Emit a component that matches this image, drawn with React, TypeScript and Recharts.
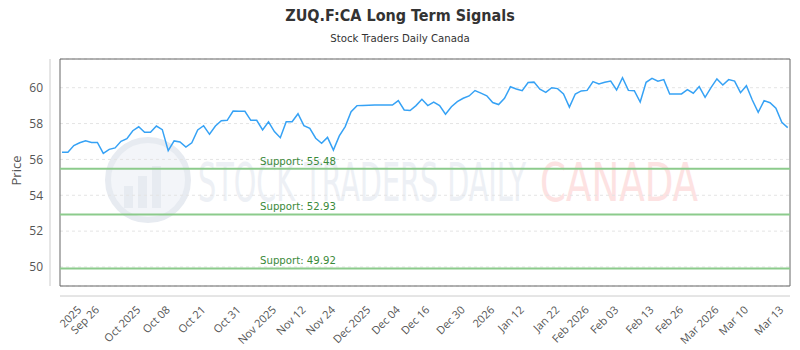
import React from 'react';
import { LineChart, Line, XAxis, YAxis, CartesianGrid, ReferenceLine, ReferenceArea } from 'recharts';

const prices: number[] = [
  56.40, 56.40, 56.77, 56.93, 57.04, 56.95, 56.95, 56.34, 56.56, 56.64,
  57.01, 57.16, 57.60, 57.82, 57.51, 57.51, 57.86, 57.66, 56.49, 57.03,
  56.97, 56.69, 56.93, 57.64, 57.88, 57.40, 57.86, 58.16, 58.18, 58.70,
  58.68, 58.68, 58.18, 58.18, 57.64, 58.10, 57.55, 57.21, 58.10, 58.10,
  58.55, 57.88, 57.73, 57.18, 56.90, 57.23, 56.52, 57.31, 57.83, 58.66,
  59.00, 59.01, 59.02, 59.03, 59.03, 59.04, 59.03, 59.28, 58.76, 58.73,
  59.00, 59.35, 59.00, 59.20, 59.00, 58.52, 58.94, 59.22, 59.41, 59.54,
  59.84, 59.70, 59.55, 59.17, 59.06, 59.41, 60.05, 59.93, 59.83, 60.29,
  60.31, 59.92, 59.74, 60.00, 59.95, 59.65, 58.92, 59.65, 59.82, 59.85,
  60.34, 60.21, 60.30, 60.37, 59.87, 60.56, 59.85, 59.83, 59.20, 60.30,
  60.52, 60.36, 60.45, 59.65, 59.65, 59.65, 59.89, 59.69, 60.06, 59.46,
  60.00, 60.49, 60.15, 60.45, 60.37, 59.72, 60.11, 59.31, 58.63, 59.28,
  59.16, 58.85, 58.07, 57.77,
];

const tickIndex: number[] = [3, 6, 13, 18, 24, 30, 36, 41, 46, 52, 57, 62, 68, 73, 78, 84, 89, 94, 100, 105, 111, 116, 122];
const tickLabels: string[] = [
  '2025', 'Sep 26', 'Oct 2025', 'Oct 08', 'Oct 21', 'Oct 31', 'Nov 2025', 'Nov 12', 'Nov 24',
  'Dec 2025', 'Dec 04', 'Dec 16', 'Dec 30', '2026', 'Jan 12', 'Jan 22', 'Feb 2026', 'Feb 03',
  'Feb 13', 'Feb 26', 'Mar 2026', 'Mar 10', 'Mar 13',
];
const supports: number[] = [55.48, 52.93, 49.92];
const yTicks: number[] = [50, 52, 54, 56, 58, 60];

const xDomain: [number, number] = [-0.34, 123.39];
const yDomain: [number, number] = [48.94, 61.6];

const data = prices.map((p, i) => ({ i, p }));

const NARROW = '"Liberation Sans Narrow", "DejaVu Sans Condensed", "Open Sans", sans-serif';
const OPEN = '"Open Sans", "DejaVu Sans", sans-serif';

export default function App() {
  return (
    <div style={{ position: 'absolute', left: 0, top: 0, width: 800, height: 350, background: '#fff', overflow: 'hidden' }}>
      <svg width={800} height={350} style={{ position: 'absolute', left: 0, top: 0 }}>
        <circle cx={148} cy={180} r={40} fill="#f3f5f9" stroke="#e7ebf1" strokeWidth={6} />
        <rect x={124} y={186} width={9} height={22} fill="#e7ebf1" />
        <rect x={138} y={176} width={9} height={32} fill="#e7ebf1" />
        <rect x={152} y={166} width={9} height={42} fill="#e7ebf1" />
        <text x={198} y={201} fontSize={54} fontFamily={NARROW} fill="#edf0f5" textLength={328} lengthAdjust="spacingAndGlyphs">STOCK TRADERS DAILY</text>
        <text x={540} y={201} fontSize={54} fontFamily={NARROW} fill="#fde2e2" textLength={158} lengthAdjust="spacingAndGlyphs">CANADA</text>
      </svg>
      <div style={{ position: 'absolute', left: 0, top: 6, width: 800, textAlign: 'center', fontFamily: NARROW, fontWeight: 'bold', fontSize: 16, color: '#333' }}>
        ZUQ.F:CA Long Term Signals
      </div>
      <div style={{ position: 'absolute', left: 0, top: 32, width: 800, textAlign: 'center', fontFamily: NARROW, fontSize: 11.3, color: '#333' }}>
        Stock Traders Daily Canada
      </div>
      <div style={{ position: 'absolute', left: 0, top: 0 }}>
        <LineChart width={800} height={350} data={data} margin={{ top: 59, right: 10, bottom: 0, left: 0 }}>
          <CartesianGrid vertical={false} strokeDasharray="3 3" stroke="#e4e4e4" />
          <XAxis
            dataKey="i"
            type="number"
            domain={xDomain}
            allowDataOverflow
            ticks={tickIndex}
            interval={0}
            tickFormatter={(v: number) => tickLabels[tickIndex.indexOf(v)] ?? ''}
            angle={-45}
            textAnchor="end"
            height={64}
            tickLine={false}
            tickSize={0}
            tickMargin={19}
            axisLine={{ stroke: '#ccc', transform: 'translate(0,10)' }}
            tick={{ fontSize: 11, fill: '#555', fontFamily: OPEN, dx: -3 }}
          />
          <YAxis
            type="number"
            domain={yDomain}
            allowDataOverflow
            ticks={yTicks}
            width={60}
            tickLine={false}
            tickSize={0}
            tickMargin={17}
            axisLine={{ stroke: '#ccc', transform: 'translate(-10,0)' }}
            tick={{ fontSize: 12, fill: '#555', fontFamily: OPEN }}
            label={{
              content: (props: any) => {
                const vb = props.viewBox || { x: 0, y: 59, height: 227 };
                const cx = 16;
                const cy = vb.y + vb.height / 2 - 2;
                return (
                  <text x={cx} y={cy} transform={`rotate(-90, ${cx}, ${cy})`} textAnchor="middle" dominantBaseline="central" fontSize={13} fill="#555" fontFamily={OPEN}>
                    Price
                  </text>
                );
              },
            }}
          />
          {supports.map((s) => (
            <ReferenceLine
              key={s}
              y={s}
              stroke="#8ccb8c"
              strokeWidth={2}
              label={{
                content: (props: any) => {
                  const vb = props.viewBox;
                  return (
                    <text x={vb.x + 200} y={vb.y - 4} fontSize={11.3} fill="#3a8a3a" fontFamily={NARROW}>
                      {`Support: ${s.toFixed(2)}`}
                    </text>
                  );
                },
              }}
            />
          ))}
          <ReferenceArea x1={xDomain[0]} x2={xDomain[1]} y1={yDomain[0]} y2={yDomain[1]} fill="none" fillOpacity={0} stroke="#666" strokeWidth={1} ifOverflow="visible" />
          <Line type="linear" dataKey="p" stroke="#36a2f5" strokeWidth={1.5} dot={false} isAnimationActive={false} />
        </LineChart>
      </div>
    </div>
  );
}
